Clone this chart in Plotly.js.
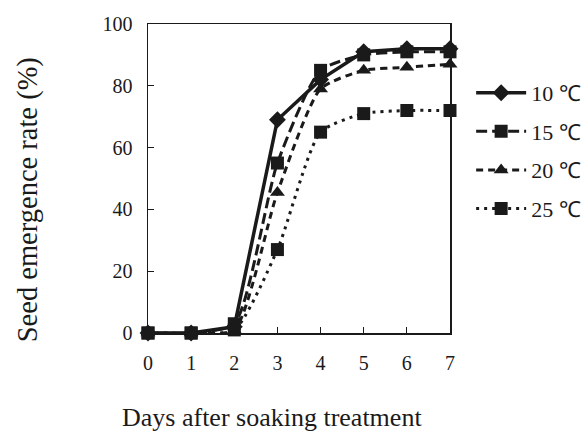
<!DOCTYPE html>
<html>
<head>
<meta charset="utf-8">
<script src="https://cdn.plot.ly/plotly-3.0.1.min.js"></script>
<style>html,body{margin:0;padding:0;background:#fff;}#chart{width:587px;height:436px;}</style>
</head>
<body>
<div id="chart"></div>
<script>
const days = [0, 1, 2, 3, 4, 5, 6, 7];
const seriesNames = ["10 \u2103", "15 \u2103", "20 \u2103", "25 \u2103"];
const t10 = [0, 0, 2, 69, 82, 91, 92, 92];
const t15 = [0, 0, 3, 55, 85, 90, 91, 91];
const t20 = [0, 0, 1, 45.5, 79, 85, 86, 87];
const t25 = [0, 0, 1, 27, 65, 71, 72, 72];
const yTicks = [0, 20, 40, 60, 80, 100];
const xTitle = "Days after soaking treatment";
const yTitle = "Seed emergence rate (%)";

const font = "Liberation Serif, Times New Roman, serif";
const black = "#1a1a1a";

function tr(y, name, sym, size, dash, width, shape, g) {
  return {
    x: days, y: y, name: name, type: "scatter", mode: "lines+markers",
    legendgroup: g,
    line: {color: black, width: width, dash: dash, shape: shape, smoothing: 0.6},
    marker: {symbol: sym, size: size, color: black},
    cliponaxis: false
  };
}

const data = [
  tr(t10, seriesNames[0], "diamond", 13, "solid", 3.5, "linear", "a"),
  tr(t15, seriesNames[1], "square", 13, "11px,5px", 3, "spline", "b"),
  tr(t20, seriesNames[2], "triangle-up", 13, "7px,5px", 3, "spline", "c"),
  tr(t25, seriesNames[3], "square", 13, "3px,5px", 3, "spline", "d")
];

const layout = {
  width: 587, height: 436,
  margin: {l: 148, r: 137, t: 24, b: 103, autoexpand: false},
  paper_bgcolor: "#fff", plot_bgcolor: "#fff",
  font: {family: font, size: 20, color: black},
  showlegend: true,
  legend: {x: 1.07, y: 0.845, xanchor: "left", yanchor: "top",
           font: {family: font, size: 22, color: black},
           itemwidth: 50, traceorder: "grouped", tracegroupgap: 7, bgcolor: "rgba(0,0,0,0)"},
  xaxis: {
    range: [0, 7], tickvals: days, ticks: "inside", ticklen: 6, tickcolor: black,
    showline: true, linecolor: black, linewidth: 1.5, mirror: true,
    showgrid: false, zeroline: false, fixedrange: true, ticklabelstandoff: 11,
    tickfont: {family: font, size: 20, color: black}
  },
  yaxis: {
    range: [0, 100], tickvals: yTicks, ticks: "inside", ticklen: 6, tickcolor: black,
    showline: true, linecolor: black, linewidth: 1.5, mirror: true,
    showgrid: false, zeroline: false, fixedrange: true, ticklabelstandoff: 10,
    tickfont: {family: font, size: 20, color: black}
  },
  annotations: [
    {text: xTitle, xref: "paper", yref: "paper", x: 0.411, y: -0.272,
     xanchor: "center", yanchor: "middle", showarrow: false,
     font: {family: font, size: 26, color: black}},
    {text: yTitle, xref: "paper", yref: "paper", x: -0.397, y: 0.43,
     xanchor: "center", yanchor: "middle", showarrow: false, textangle: -90,
     font: {family: font, size: 28.5, color: black}}
  ]
};

Plotly.newPlot("chart", data, layout, {displayModeBar: false, staticPlot: true});
</script>
</body>
</html>
